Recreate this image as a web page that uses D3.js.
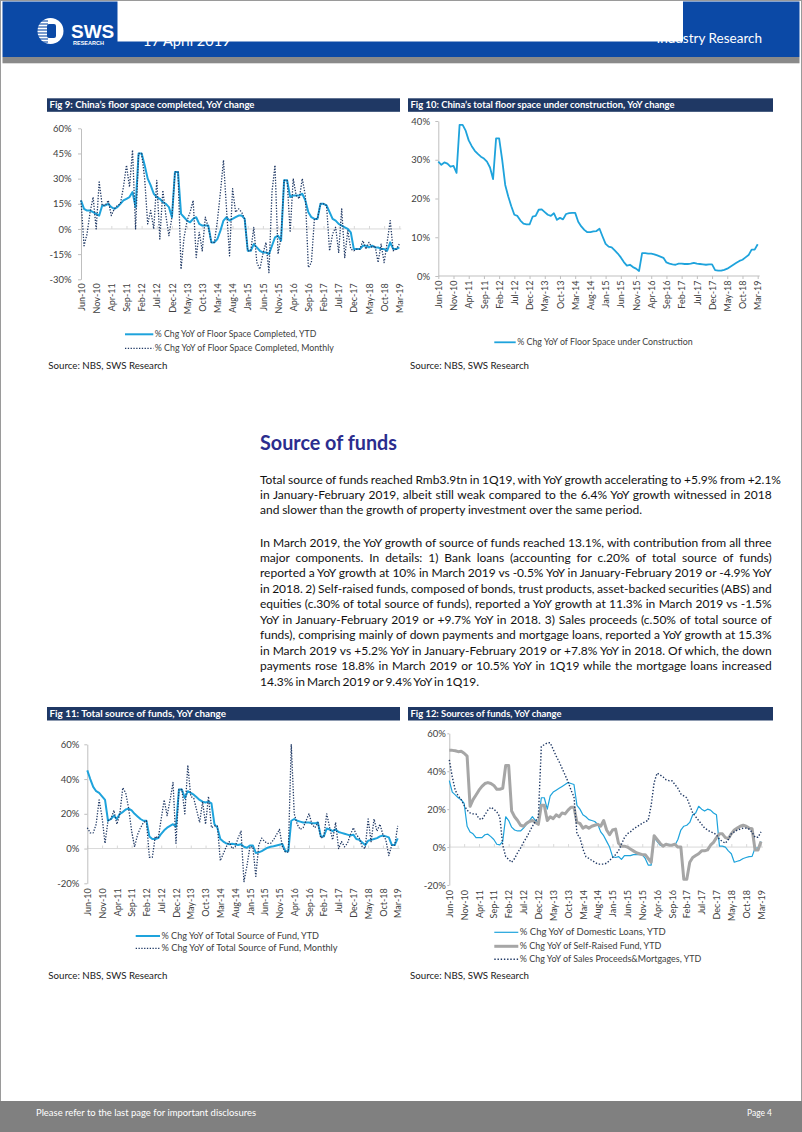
<!DOCTYPE html>
<html><head><meta charset="utf-8">
<script src="https://cdnjs.cloudflare.com/ajax/libs/d3/7.8.5/d3.min.js"></script>
<style>
html,body{margin:0;padding:0;background:#fff;}
svg{display:block;}
</style></head><body>
<svg id="page" width="802" height="1132"></svg>
<script>
// ---------------- DATA ----------------
const months = ("Jun-10 Jul-10 Aug-10 Sep-10 Oct-10 Nov-10 Dec-10 " +
 "Jan-11 Feb-11 Mar-11 Apr-11 May-11 Jun-11 Jul-11 Aug-11 Sep-11 Oct-11 Nov-11 Dec-11 " +
 "Jan-12 Feb-12 Mar-12 Apr-12 May-12 Jun-12 Jul-12 Aug-12 Sep-12 Oct-12 Nov-12 Dec-12 " +
 "Jan-13 Feb-13 Mar-13 Apr-13 May-13 Jun-13 Jul-13 Aug-13 Sep-13 Oct-13 Nov-13 Dec-13 " +
 "Jan-14 Feb-14 Mar-14 Apr-14 May-14 Jun-14 Jul-14 Aug-14 Sep-14 Oct-14 Nov-14 Dec-14 " +
 "Jan-15 Feb-15 Mar-15 Apr-15 May-15 Jun-15 Jul-15 Aug-15 Sep-15 Oct-15 Nov-15 Dec-15 " +
 "Jan-16 Feb-16 Mar-16 Apr-16 May-16 Jun-16 Jul-16 Aug-16 Sep-16 Oct-16 Nov-16 Dec-16 " +
 "Jan-17 Feb-17 Mar-17 Apr-17 May-17 Jun-17 Jul-17 Aug-17 Sep-17 Oct-17 Nov-17 Dec-17 " +
 "Jan-18 Feb-18 Mar-18 Apr-18 May-18 Jun-18 Jul-18 Aug-18 Sep-18 Oct-18 Nov-18 Dec-18 " +
 "Jan-19 Feb-19 Mar-19").split(" ");

const tickLabels = ["Jun-10","Nov-10","Apr-11","Sep-11","Feb-12","Jul-12","Dec-12","May-13",
 "Oct-13","Mar-14","Aug-14","Jan-15","Jun-15","Nov-15","Apr-16","Sep-16","Feb-17","Jul-17",
 "Dec-17","May-18","Oct-18","Mar-19"];

// Fig 9
const floorCompletedYTD = [
 17,12,11,11,10,9,8,14,14,15,
 13,12,13,15,17,18,19,22,13,45,
 45,38,30,26,21,19,18,16,15,13,
 7,34,34,9,7,5,4,6,7,3,
 2,2,2,-8,-8,-6,-1,5,7,5,
 6,7,8,8,6,-13,-13,-9,-11,-13,
 -14,-14,-15,-10,-5,-4,-7,29,29,19,
 20,20,20,21,17,10,7,6,6,15,
 15,14,10,6,5,3,2,1,0,-2,
 -12,-12,-12,-10,-10,-11,-10,-11,-11,-12,
 -12,-13,-8,-12,-12,-11];
const floorCompletedMonthly = [
 17,-10,-3,10,19,0,28,14,14,17,
 8,12,14,15,25,38,25,47,0,45,
 45,30,3,11,0,29,-6,23,8,-4,
 7,34,34,-24,-5,5,10,17,-17,-2,
 -13,7,1,-8,-8,5,22,41,12,-16,
 24,10,12,10,6,-13,-13,1,-20,-24,
 -15,-8,-26,22,38,-15,-5,29,29,-2,
 30,20,18,30,20,-23,-20,6,6,15,
 15,14,-13,-3,1,-14,12,-17,-1,-12,
 -13,-12,-12,-7,-12,-8,-11,-10,-20,-9,
 -20,-8,5,-13,-12,-9];
// Fig 10
const floorUnderConstruction = [
 29.5,28.7,29.3,29.0,28.2,28.4,26.6,39,39,37.5,
 35,33.5,32.3,31.5,30.8,30.3,29.5,28,25,35.5,
 35.5,30,23.5,20.5,18,15.8,15.5,14.3,13.5,13.3,
 13.3,15.3,15.5,17.1,17.2,16.5,15.8,15.5,16.2,14.5,
 15,14.6,16,16.2,16.3,16.3,14,12.8,11.9,11.3,
 11.3,11.5,11.6,12.2,10.2,8.3,7.6,7.4,6.6,5.8,
 4.8,3.6,2.7,2.9,2.3,1.9,1.3,5.9,5.9,5.8,
 5.8,5.6,5.3,5.0,4.7,3.5,3.2,3.0,2.9,3.2,
 3.2,3.1,3.1,3.2,3.4,3.2,3.1,3.0,2.9,3.0,
 3.0,1.5,1.4,1.4,1.6,1.9,2.4,2.9,3.4,3.9,
 4.2,4.8,5.4,6.8,6.8,8.2];
// Fig 11
const totalFundsYTD = [
 45,40,35.5,33,32,30,28,16,17,19,
 17,20,21,22.5,23,22,20,18.5,17,16,
 16,7,5.5,5.5,6,8.5,10.5,12,13,14,
 12.5,34,34,29,33,32,31,29.5,28,27,
 26.5,27,26,14,12,5.5,4,3,2.5,2.8,
 2.5,2,2.5,1,0.5,1.8,1.8,-2.5,-2.2,-1.5,
 -0.5,0.5,1,1.3,1.8,2.2,2.6,-1.5,-1.5,16,
 17,16,15.5,15,15,15,14.5,14.5,15,7,
 7,11.5,11,10,11,9.5,9,8.5,8,7.5,
 8,5.5,5,3.5,2,4.5,5,5.5,6,7,
 7.5,7,6.4,2.1,2.1,5.9];
const totalFundsMonthly = [
 12,9,9,14,28,18,3,16,17,22,
 14,20,35,32,23,10,1,8,12,15,
 16,-5,-5,7,6,17,28,19,28,38,
 3,34,34,20,48,30,29,22,15,27,
 14,30,12,13,13,-7,-3,1,4,0,
 1,6,10,-19,-10,1,1,-16,2,6,
 4,3,3,5,8,11,1,-2,-2,60,
 20,14,11,12,16,20,14,12,15,6,
 7,20,12,5,15,0,4,1,3,8,
 12,8,6,1,0,17,4,17,10,14,
 8,5,-4,2,2,13];
// Fig 12
const domesticLoans = [
 35,29,27.5,26,25,23,11,8,7,5,
 5,5,6.5,6.8,5.5,4,1.5,1.2,3,16,
 14,10.5,9,8.5,8.5,10,12,14,16,14,
 13,26,26,20,27,29,30,31,32,33,
 34,33.5,33,22,20,17,16,14.5,14,13.5,
 12,8,6,3,0,-5,-5.5,-5,-6.5,-4.5,
 -4.5,-4.5,-4,-4,-4,-4,-6,-9.5,-9.5,5,
 3,1,0.5,1,1.5,1,1,4,9,11,
 11.5,13,17,18,21.5,20,19,20,19.5,18,
 17,0.5,0.5,0,-2,-3.5,-8,-7.5,-7,-6,
 -5.5,-5,-4.9,-0.5,-0.5,3];
const selfRaisedFund = [
 51,51,50.8,50.3,50.5,49.5,48,21.5,25,27.5,
 30,32,33.5,34,33.5,32.5,30.5,30.5,31,43,
 43,19,16,14,11.5,11,12.5,13.5,14,13,
 12,22,22,14,16,15,17,16,18,17.5,
 19.5,21,21,13,12.5,10,11,10,11,11.5,
 12,11,14,9,6.5,9,9.5,2,0.5,0.5,
 0,-1,-2,-3,-3.5,-4,-4,-6,-8,6,
 4,2,0.5,1.5,1,1,1.5,0,0,-17,
 -17,-8,-5.5,-4.5,-3.5,-2,-2,-1.5,1,2.5,
 5,7,7,5,4.5,7,9,10,11,11.5,
 11,10,9.7,-1.5,-1.5,3];
const salesProceeds = [
 46,37,30,27,25,22,19.5,18,17.5,17.5,
 15,14.5,17,19.5,21,20,18.5,16,1,-5,
 -6.5,-8,-6,-3,-0.5,2.5,5,8,11,13.5,
 16,53,54,55,55,51.5,48,45,41.5,38,
 34.5,30,26.5,7,5,-1,-5,-6,-7,-8,
 -9,-9,-9,-8.5,-7,-5.5,-4,-2,1.5,5,
 7,8,9.5,10.5,11.5,12.5,13.5,14,22,34,
 39,38,37,35.5,35,35,33,31,28,27,
 26,22,18,16,14,12,10,9,8,7.5,
 6.5,4,3,2,4,7,8,9,9.5,10,
 10,9.5,7.8,5.2,5.2,8];

const para1 = [
 "Total source of funds reached Rmb3.9tn in 1Q19, with YoY growth accelerating to +5.9% from +2.1%",
 "in January-February 2019, albeit still weak compared to the 6.4% YoY growth witnessed in 2018",
 "and slower than the growth of property investment over the same period."];
const para2 = [
 "In March 2019, the YoY growth of source of funds reached 13.1%, with contribution from all three",
 "major components. In details: 1) Bank loans (accounting for c.20% of total source of funds)",
 "reported a YoY growth at 10% in March 2019 vs -0.5% YoY in January-February 2019 or -4.9% YoY",
 "in 2018. 2) Self-raised funds, composed of bonds, trust products, asset-backed securities (ABS) and",
 "equities (c.30% of total source of funds), reported a YoY growth at 11.3% in March 2019 vs -1.5%",
 "YoY in January-February 2019 or +9.7% YoY in 2018. 3) Sales proceeds (c.50% of total source of",
 "funds), comprising mainly of down payments and mortgage loans, reported a YoY growth at 15.3%",
 "in March 2019 vs +5.2% YoY in January-February 2019 or +7.8% YoY in 2018. Of which, the down",
 "payments rose 18.8% in March 2019 or 10.5% YoY in 1Q19 while the mortgage loans increased",
 "14.3% in March 2019 or 9.4% YoY in 1Q19."];

// ---------------- DRAW ----------------
const FONT = "Lato, 'Open Sans', 'DejaVu Sans', sans-serif";
const BLUE = "#1ea3dc", NAVY = "#1f3864", GRAY = "#a6a6a6", BAR = "#1f3864";
const svg = d3.select("#page").attr("font-family", FONT);

svg.append("rect").attr("x",0).attr("y",0).attr("width",802).attr("height",1132).attr("fill","#fff");

// header
svg.append("rect").attr("x",2.5).attr("y",1.5).attr("width",797).attr("height",55.5).attr("fill","#0b49a6");
svg.append("rect").attr("x",2.5).attr("y",57).attr("width",797).attr("height",6.3).attr("fill","#8a8a8a");
const logo = svg.append("g");
logo.append("circle").attr("cx",50.5).attr("cy",31).attr("r",13).attr("fill","#fff");
[21,24,27,30,33,36,39,42].forEach(yy=>{
  logo.append("line").attr("x1",36).attr("x2",48).attr("y1",yy).attr("y2",yy).attr("stroke","#0b49a6").attr("stroke-width",1.1);
});
logo.append("rect").attr("x",47).attr("y",24).attr("width",9).attr("height",14).attr("rx",2).attr("fill","#0b49a6");
svg.append("text").attr("x",71).attr("y",38).attr("fill","#fff").attr("font-family","'Liberation Sans', Arial, sans-serif")
  .attr("font-weight","bold").attr("font-size",19).text("SWS");
svg.append("text").attr("x",73).attr("y",45).attr("fill","#fff").attr("font-family","'Liberation Sans', Arial, sans-serif")
  .attr("font-weight","bold").attr("font-size",5.5).text("RESEARCH");
svg.append("text").attr("x",143).attr("y",46).attr("fill","#fff").attr("font-size",14.5).text("17 April 2019");
svg.append("text").attr("x",762).attr("y",42.5).attr("text-anchor","end").attr("fill","#fff").attr("font-size",13.5).text("Industry Research");
svg.append("rect").attr("x",117.5).attr("y",0).attr("width",565.5).attr("height",41.5).attr("fill","#fff");

// page border
svg.append("rect").attr("x",0.5).attr("y",0.5).attr("width",801).attr("height",1131).attr("fill","none").attr("stroke","#9a9a9a").attr("stroke-width",1);

// footer
svg.append("rect").attr("x",0).attr("y",1101).attr("width",802).attr("height",31).attr("fill","#808080");
svg.append("text").attr("x",36).attr("y",1115.5).attr("fill","#fff").attr("font-size",9.5)
  .attr("textLength",220).attr("lengthAdjust","spacingAndGlyphs").text("Please refer to the last page for important disclosures");
svg.append("text").attr("x",747).attr("y",1115.5).attr("fill","#fff").attr("font-size",9.5)
  .attr("textLength",25).attr("lengthAdjust","spacingAndGlyphs").text("Page 4");

function fitText(sel, w){ sel.attr("textLength",w).attr("lengthAdjust","spacingAndGlyphs"); return sel; }

function titleBar(x, y, w, txt, tw){
  svg.append("rect").attr("x",x).attr("y",y).attr("width",w).attr("height",13.5).attr("fill",BAR);
  fitText(svg.append("text").attr("x",x+2.5).attr("y",y+10).attr("fill","#fff").attr("font-weight","bold")
    .attr("font-size",9).text(txt), tw);
}
function source(x, y){
  fitText(svg.append("text").attr("x",x).attr("y",y).attr("fill","#1a1a1a").attr("font-size",10)
    .text("Source: NBS, SWS Research"), 119);
}
function legendItem(x1, x2, y, style, txt, tw){
  const l = svg.append("line").attr("x1",x1).attr("x2",x2).attr("y1",y).attr("y2",y)
    .attr("stroke",style.color).attr("stroke-width",style.width);
  if (style.dash) l.attr("stroke-dasharray",style.dash);
  fitText(svg.append("text").attr("x",x2+1.5).attr("y",y+3).attr("fill","#404040").attr("font-size",8.8).text(txt), tw);
}

function drawChart(o){
  const g = svg.append("g");
  const x = d3.scalePoint().domain(months).range([o.x0, o.x1]);
  const y = d3.scaleLinear().domain(o.yDomain).range([o.yBottom, o.yTop]);
  // zero / base line with ticks
  const za = g.append("g").attr("transform",`translate(0,${y(0)})`)
    .call((o.ticksDown ? d3.axisBottom(x) : d3.axisTop(x)).tickValues(tickLabels).tickFormat("").tickSize(3).tickSizeOuter(0));
  za.select(".domain").attr("stroke", o.zeroColor).attr("d", `M${o.x0},0H${o.x1 + 2}`);
  za.selectAll(".tick line").attr("stroke", o.zeroColor);
  // y axis
  const ya = g.append("g").attr("transform",`translate(${o.x0},0)`)
    .call(d3.axisLeft(y).tickValues(o.yTicks).tickFormat(d=>d+"%").tickSize(o.yTickSize).tickSizeOuter(0).tickPadding(o.yPad));
  ya.select(".domain").attr("stroke","#bfbfbf");
  ya.selectAll(".tick line").attr("stroke","#bfbfbf");
  ya.selectAll("text").attr("font-family",FONT).attr("font-size",9.5).attr("fill","#404040");
  // x labels
  const xa = g.append("g").attr("transform",`translate(0,${o.labelTop})`)
    .call(d3.axisBottom(x).tickValues(tickLabels).tickSize(0).tickPadding(0));
  xa.select(".domain").remove();
  xa.selectAll("text").attr("font-family",FONT).attr("font-size",9).attr("fill","#404040")
    .attr("transform","rotate(-90)").attr("text-anchor","end").attr("x",0).attr("y",0).attr("dy","0.35em");
  // series
  o.series.forEach(s=>{
    const p = g.append("path").datum(s.values)
      .attr("d", d3.line().x((d,i)=>x(months[i])).y(d=>y(d)))
      .attr("fill","none").attr("stroke",s.color).attr("stroke-width",s.width)
      .attr("stroke-linejoin","round");
    if (s.dash) p.attr("stroke-dasharray", s.dash);
  });
}

const solidBlue = {color:BLUE, width:2};
const dotNavy = {color:NAVY, width:1.3, dash:"1.3,1.5"};

// Fig 9
titleBar(47, 98.3, 353, "Fig 9: China\u2019s floor space completed, YoY change", 205);
drawChart({x0:81, x1:399.3, yTop:128.3, yBottom:279.3, yDomain:[-30,60], yTicks:[-30,-15,0,15,30,45,60],
  labelTop:283.3, yPad:6.3, yTickSize:3, zeroColor:"#d9d9d9",
  series:[Object.assign({values:floorCompletedYTD}, solidBlue),
          Object.assign({values:floorCompletedMonthly}, dotNavy)]});
legendItem(125, 153.3, 334.3, solidBlue, "% Chg YoY of Floor Space Completed, YTD", 161.5);
legendItem(125, 153.3, 348.3, dotNavy, "% Chg YoY of Floor Space Completed, Monthly", 179);
source(48.3, 369);

// Fig 10
titleBar(408, 98.3, 365, "Fig 10: China\u2019s total floor space under construction, YoY change", 264);
drawChart({x0:438.3, x1:757.7, yTop:121, yBottom:276, yDomain:[0,40], yTicks:[0,10,20,30,40],
  labelTop:280.5, yPad:5.3, yTickSize:3, zeroColor:"#bfbfbf", ticksDown:true,
  series:[{values:floorUnderConstruction, color:BLUE, width:1.8}]});
legendItem(494.3, 515.7, 342.3, {color:BLUE, width:1.8}, "% Chg YoY of Floor Space under Construction", 175.5);
source(410, 369);

// Text section
svg.append("text").attr("x",260).attr("y",450).attr("fill","#2b2d8e").attr("font-weight","bold")
  .attr("font-size",20).attr("textLength",137).attr("lengthAdjust","spacingAndGlyphs").text("Source of funds");

function drawPara(lines, y0, lh, widths){
  lines.forEach((ln,i)=>{
    const t = svg.append("text").attr("x",260).attr("y",y0 + i*lh).attr("fill","#111")
      .attr("font-size",12).text(ln);
    const target = widths[i];
    const nat = t.node().getComputedTextLength();
    const spaces = (ln.match(/ /g)||[]).length;
    if (spaces > 0) {
      t.attr("word-spacing", ((target - nat)/spaces).toFixed(3));
      const now = t.node().getComputedTextLength();
      if (Math.abs(now - target) > 2) t.attr("word-spacing",null).attr("textLength",target).attr("lengthAdjust","spacing");
    }
  });
}
drawPara(para1, 484, 15.2, [521, 511.7, 382]);
drawPara(para2, 546.5, 15.45, [511.7,511.7,511.7,511.7,511.7,511.7,511.7,511.7,511.7,219]);

// Fig 11
titleBar(47, 707, 353, "Fig 11: Total source of funds, YoY change", 176.5);
drawChart({x0:87.3, x1:397.7, yTop:744.3, yBottom:883.3, yDomain:[-20,60], yTicks:[-20,0,20,40,60],
  labelTop:888.3, yPad:5, yTickSize:3, zeroColor:"#d9d9d9",
  series:[Object.assign({values:totalFundsYTD}, solidBlue),
          Object.assign({values:totalFundsMonthly}, dotNavy)]});
legendItem(135.7, 160, 936, solidBlue, "% Chg YoY of Total Source of Fund, YTD", 157.5);
legendItem(135.7, 160, 948.3, dotNavy, "% Chg YoY of Total Source of Fund, Monthly", 176);
source(48.3, 978.5);

// Fig 12
titleBar(408, 707, 365, "Fig 12: Sources of funds, YoY change", 151);
drawChart({x0:449.3, x1:761, yTop:733.3, yBottom:885, yDomain:[-20,60], yTicks:[-20,0,20,40,60],
  labelTop:890, yPad:1.5, yTickSize:2, zeroColor:"#d9d9d9",
  series:[{values:domesticLoans, color:BLUE, width:1.2},
          {values:selfRaisedFund, color:GRAY, width:3},
          {values:salesProceeds, color:NAVY, width:1.4, dash:"1.4,1.8"}]});
legendItem(494.3, 518.3, 932.3, {color:BLUE, width:1.2}, "% Chg YoY of Domestic Loans, YTD", 146);
legendItem(494.3, 518.3, 946.3, {color:GRAY, width:3}, "% Chg YoY of Self-Raised Fund, YTD", 141.5);
legendItem(494.3, 518.3, 959.3, {color:NAVY, width:1.4, dash:"1.4,1.8"}, "% Chg YoY of Sales Proceeds&Mortgages, YTD", 181.5);
source(410, 978.5);
</script>
</body></html>
